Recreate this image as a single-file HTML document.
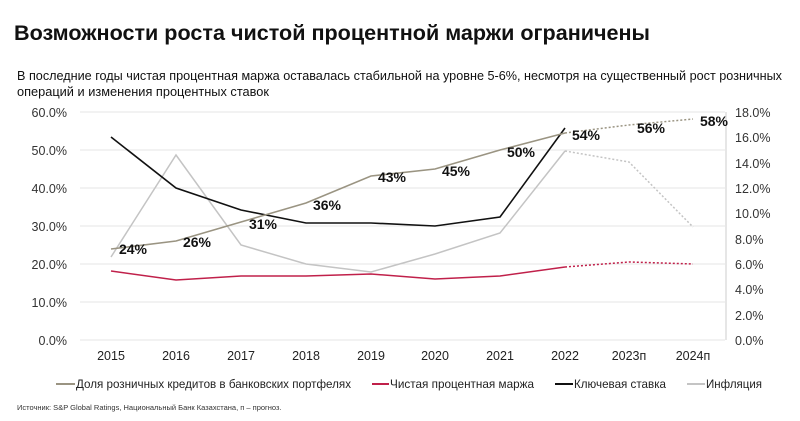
<!DOCTYPE html>
<html><head><meta charset="utf-8"><style>
body{margin:0;background:#fff;width:800px;height:416px;overflow:hidden;font-family:"Liberation Sans",sans-serif}
</style></head><body>
<svg width="800" height="416" viewBox="0 0 800 416" xmlns="http://www.w3.org/2000/svg" font-family="Liberation Sans, sans-serif">
<text x="14" y="40" font-size="21" font-weight="bold" fill="#111" textLength="636" lengthAdjust="spacingAndGlyphs">Возможности роста чистой процентной маржи ограничены</text>
<text x="17" y="80" font-size="12.5" fill="#111" textLength="765" lengthAdjust="spacingAndGlyphs">В последние годы чистая процентная маржа оставалась стабильной на уровне 5-6%, несмотря на существенный рост розничных</text>
<text x="17" y="96" font-size="12.5" fill="#111" textLength="252" lengthAdjust="spacingAndGlyphs">операций и изменения процентных ставок</text>
<g stroke="#e4e4e4" stroke-width="1">
<line x1="80" x2="725" y1="112" y2="112"/><line x1="80" x2="725" y1="150" y2="150"/><line x1="80" x2="725" y1="188" y2="188"/><line x1="80" x2="725" y1="226" y2="226"/><line x1="80" x2="725" y1="264" y2="264"/><line x1="80" x2="725" y1="302" y2="302"/><line x1="80" x2="725" y1="340" y2="340"/>
</g>
<line x1="726" x2="726" y1="112" y2="340" stroke="#ccc"/>
<g font-size="12.5" fill="#333" text-anchor="end">
<text x="67" y="117">60.0%</text><text x="67" y="155">50.0%</text><text x="67" y="193">40.0%</text><text x="67" y="231">30.0%</text><text x="67" y="269">20.0%</text><text x="67" y="307">10.0%</text><text x="67" y="345">0.0%</text>
</g>
<g font-size="12.5" fill="#333">
<text x="735" y="117">18.0%</text><text x="735" y="142">16.0%</text><text x="735" y="168">14.0%</text><text x="735" y="193">12.0%</text><text x="735" y="218">10.0%</text><text x="735" y="244">8.0%</text><text x="735" y="269">6.0%</text><text x="735" y="294">4.0%</text><text x="735" y="320">2.0%</text><text x="735" y="345">0.0%</text>
</g>
<g font-size="12.5" fill="#222" text-anchor="middle">
<text x="111" y="360">2015</text><text x="176" y="360">2016</text><text x="241" y="360">2017</text><text x="306" y="360">2018</text><text x="371" y="360">2019</text><text x="435" y="360">2020</text><text x="500" y="360">2021</text><text x="565" y="360">2022</text><text x="629" y="360">2023п</text><text x="693" y="360">2024п</text>
</g>
<polyline fill="none" stroke="#c4c4c4" stroke-width="1.5" points="111,257 176,155 241,245 306,264 371,272 435,254 500,233 565,151"/>
<polyline fill="none" stroke="#c4c4c4" stroke-width="1.5" stroke-dasharray="2,2" points="565,151 629,162 693,227"/>
<polyline fill="none" stroke="#111" stroke-width="1.6" points="111,137 176,188 241,210 306,223 371,223 435,226 500,217 565,128"/>
<polyline fill="none" stroke="#c0204a" stroke-width="1.5" points="111,271 176,280 241,276 306,276 371,274 435,279 500,276 565,267"/>
<polyline fill="none" stroke="#c0204a" stroke-width="1.5" stroke-dasharray="2,2" points="565,267 629,262 693,264"/>
<polyline fill="none" stroke="#9a9482" stroke-width="1.6" points="111,249 176,241 241,222 306,203 371,176 435,169 500,150 565,133"/>
<polyline fill="none" stroke="#9a9482" stroke-width="1.5" stroke-dasharray="2,2" points="565,133 629,125 693,119"/>
<g font-size="14" font-weight="bold" fill="#111" text-anchor="middle">
<text x="133" y="254">24%</text><text x="197" y="247">26%</text><text x="263" y="229">31%</text><text x="327" y="210">36%</text><text x="392" y="182">43%</text><text x="456" y="176">45%</text><text x="521" y="157">50%</text><text x="586" y="140">54%</text><text x="651" y="133">56%</text><text x="714" y="126">58%</text>
</g>
<g font-size="12" fill="#222">
<line x1="56" x2="75" y1="384" y2="384" stroke="#9a9482" stroke-width="2"/><text x="76" y="388" textLength="275" lengthAdjust="spacingAndGlyphs">Доля розничных кредитов в банковских портфелях</text>
<line x1="372" x2="389" y1="384" y2="384" stroke="#c0204a" stroke-width="2"/><text x="390" y="388" textLength="144" lengthAdjust="spacingAndGlyphs">Чистая процентная маржа</text>
<line x1="555" x2="573" y1="384" y2="384" stroke="#111" stroke-width="2"/><text x="574" y="388" textLength="92" lengthAdjust="spacingAndGlyphs">Ключевая ставка</text>
<line x1="687" x2="705" y1="384" y2="384" stroke="#c4c4c4" stroke-width="2"/><text x="706" y="388" textLength="56" lengthAdjust="spacingAndGlyphs">Инфляция</text>
</g>
<text x="17" y="410" font-size="7.5" fill="#333">Источник: S&amp;P Global Ratings, Национальный Банк Казахстана, п – прогноз.</text>
</svg>
</body></html>
